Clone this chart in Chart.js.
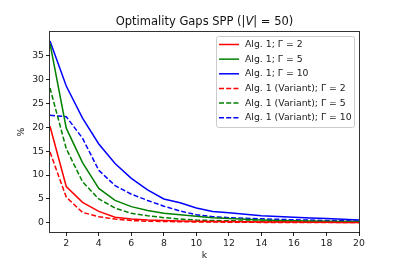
<!DOCTYPE html>
<html>
<head>
<meta charset="utf-8">
<script src="https://cdn.jsdelivr.net/npm/chart.js@4.4.1/dist/chart.umd.min.js"></script>
<style>
  html, body { margin: 0; padding: 0; background: #fff; }
</style>
</head>
<body>
<canvas id="gapChart" width="399" height="266"></canvas>
<script>
// 横軸 k
const kValues = [1, 2, 3, 4, 5, 6, 7, 8, 9, 10, 11, 12, 13, 14, 15, 16, 17, 18, 19, 20];
const xTicks = [2, 4, 6, 8, 10, 12, 14, 16, 18, 20];
const yTicks = [0, 5, 10, 15, 20, 25, 30, 35];

// Alg. 1
const alg1G2  = [20.2, 7.6, 4.3, 2.4, 1.2, 0.8, 0.6, 0.5, 0.4, 0.35, 0.3, 0.3, 0.25, 0.2, 0.2, 0.2, 0.15, 0.15, 0.1, 0.1];
const alg1G5  = [37.5, 19.8, 12.6, 7.2, 4.7, 3.4, 2.6, 2.0, 1.7, 1.4, 1.1, 0.9, 0.75, 0.6, 0.5, 0.45, 0.4, 0.35, 0.3, 0.3];
const alg1G10 = [38.0, 28.6, 21.9, 16.5, 12.4, 9.3, 6.9, 5.0, 4.2, 3.1, 2.4, 2.1, 1.8, 1.5, 1.35, 1.2, 1.05, 0.9, 0.75, 0.6];
// Alg. 1 (Variant)
const varG2  = [14.8, 5.4, 2.2, 1.3, 0.8, 0.5, 0.35, 0.3, 0.25, 0.2, 0.2, 0.15, 0.15, 0.1, 0.1, 0.1, 0.1, 0.1, 0.1, 0.1];
const varG5  = [28.2, 15.5, 8.6, 5.0, 3.1, 2.0, 1.5, 1.1, 0.8, 0.6, 0.5, 0.45, 0.4, 0.35, 0.3, 0.3, 0.25, 0.25, 0.2, 0.2];
const varG10 = [22.5, 22.2, 17.7, 11.0, 7.8, 6.0, 4.7, 3.5, 2.5, 1.7, 1.3, 1.1, 0.95, 0.85, 0.75, 0.65, 0.6, 0.5, 0.45, 0.4];

// タイトル（V だけ斜体）
const titleParts = [['Optimality Gaps SPP (|', false], ['V', true], ['| = 50)', false]];

const FONT = 'DejaVu Sans';

function toPoints(vals) {
  return vals.map((v, i) => ({ x: kValues[i], y: v }));
}

function makeSet(label, vals, color, dashed) {
  return {
    label: label,
    data: toPoints(vals),
    borderColor: color,
    backgroundColor: color,
    borderWidth: 1.5,
    borderDash: dashed ? [5, 2.2] : [],
    pointRadius: 0,
    tension: 0,
    fill: false
  };
}

// 枠線・タイトル・凡例（グラフ内右上）
const framePlugin = {
  id: 'frameLegend',
  afterDraw(chart) {
    const ctx = chart.ctx;
    const a = chart.chartArea;
    ctx.save();
    ctx.strokeStyle = 'rgba(0,0,0,0.8)';
    ctx.lineWidth = 1;
    ctx.setLineDash([]);
    ctx.strokeRect(Math.round(a.left) - 0.5, Math.round(a.top) - 0.5,
      Math.round(a.right - a.left) + 1, Math.round(a.bottom - a.top) + 1);

    // タイトル
    const fNorm = '11.5px "' + FONT + '"';
    const fItal = 'italic 11.5px "' + FONT + '"';
    let total = 0;
    titleParts.forEach(p => { ctx.font = p[1] ? fItal : fNorm; total += ctx.measureText(p[0]).width; });
    let tx = (a.left + a.right) / 2 - total / 2;
    ctx.fillStyle = '#111';
    ctx.textBaseline = 'middle';
    ctx.textAlign = 'left';
    titleParts.forEach(p => {
      ctx.font = p[1] ? fItal : fNorm;
      ctx.fillText(p[0], tx, 22);
      tx += ctx.measureText(p[0]).width;
    });

    // 凡例
    const bx = 216.5, by = 36.5, bw = 138, bh = 91;
    ctx.fillStyle = 'rgba(255,255,255,0.85)';
    ctx.strokeStyle = '#cccccc';
    ctx.beginPath();
    ctx.roundRect(bx, by, bw, bh, 2);
    ctx.fill();
    ctx.stroke();

    ctx.font = '9.3px "' + FONT + '"';
    chart.data.datasets.forEach((ds, i) => {
      const y = 44.5 + i * 14.65;
      ctx.strokeStyle = ds.borderColor;
      ctx.lineWidth = 1.5;
      ctx.setLineDash(ds.borderDash);
      ctx.beginPath();
      ctx.moveTo(219, y);
      ctx.lineTo(239, y);
      ctx.stroke();
      ctx.setLineDash([]);
      ctx.fillStyle = '#222';
      ctx.fillText(ds.label, 245, y);
    });
    ctx.restore();
  }
};

let ctx = document.getElementById('gapChart').getContext('2d');
window.gapChart = new Chart(ctx, {
  type: 'line',
  data: {
    datasets: [
      makeSet('Alg. 1; Γ = 2', alg1G2, '#ff0000', false),
      makeSet('Alg. 1; Γ = 5', alg1G5, '#008000', false),
      makeSet('Alg. 1; Γ = 10', alg1G10, '#0000ff', false),
      makeSet('Alg. 1 (Variant); Γ = 2', varG2, '#ff0000', true),
      makeSet('Alg. 1 (Variant); Γ = 5', varG5, '#008000', true),
      makeSet('Alg. 1 (Variant); Γ = 10', varG10, '#0000ff', true)
    ]
  },
  options: {
    responsive: false,
    animation: false,
    devicePixelRatio: 1,
    layout: { padding: { top: 32, right: 40, bottom: 0, left: 0 } },
    plugins: {
      legend: { display: false },
      tooltip: { enabled: false },
      title: { display: false }
    },
    scales: {
      x: {
        type: 'linear',
        min: 1,
        max: 20,
        afterBuildTicks: (scale) => { scale.ticks = xTicks.map(v => ({ value: v })); },
        afterFit: (scale) => { scale.height = 34; },
        grid: { drawOnChartArea: false, drawTicks: true, tickLength: 4, color: '#222' },
        border: { display: false },
        ticks: { color: '#222', padding: 2, maxRotation: 0, font: { family: FONT, size: 9.3 } },
        title: { display: true, text: 'k', color: '#222', padding: { top: 0, bottom: 5 }, font: { family: FONT, size: 9.3 } }
      },
      y: {
        min: -1.9,
        max: 39.9,
        afterBuildTicks: (scale) => { scale.ticks = yTicks.map(v => ({ value: v })); },
        afterFit: (scale) => { scale.width = 50; },
        grid: { drawOnChartArea: false, drawTicks: true, tickLength: 4, color: '#222' },
        border: { display: false },
        ticks: { color: '#222', padding: 2, font: { family: FONT, size: 9.3 } },
        title: { display: true, text: '%', color: '#222', padding: { top: 16, bottom: 0 }, font: { family: FONT, size: 9.3 } }
      }
    }
  },
  plugins: [framePlugin]
});
</script>
</body>
</html>
